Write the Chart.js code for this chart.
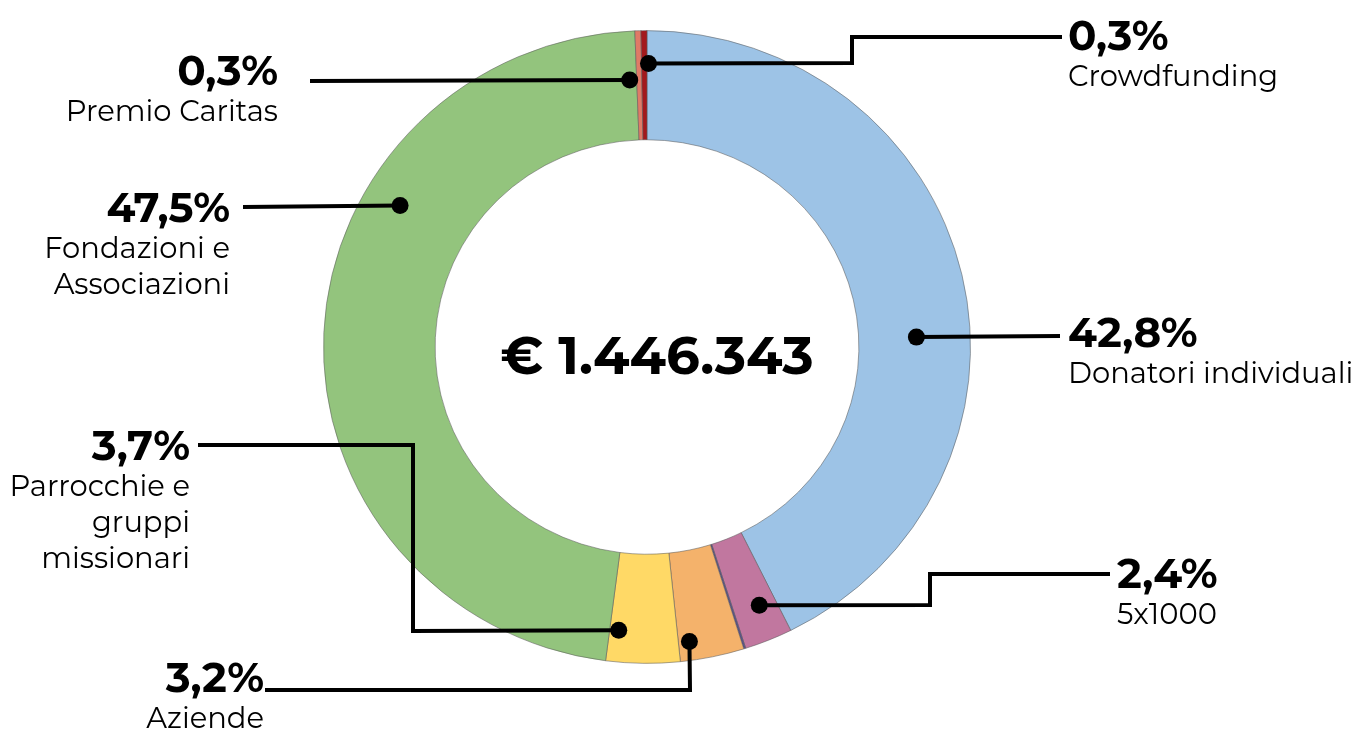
<!DOCTYPE html>
<html>
<head>
<meta charset="utf-8">
<script src="https://cdn.jsdelivr.net/npm/chart.js@4.4.1/dist/chart.umd.min.js"></script>
<style>
  html, body { margin: 0; padding: 0; background: #fff; }
  #wrap { width: 1357px; height: 729px; position: relative; }
</style>
</head>
<body>
<div id="wrap"><canvas id="chart" width="1357" height="729"></canvas></div>
<script>
const categories = ['Donatori individuali', '5x1000', '', 'Aziende', 'Parrocchie e gruppi missionari', 'Fondazioni e Associazioni', 'Premio Caritas', 'Crowdfunding'];
const values = [42.8, 2.4, 0.1, 3.2, 3.7, 47.5, 0.3, 0.3];
const pctLabels = ['42,8%', '2,4%', '', '3,2%', '3,7%', '47,5%', '0,3%', '0,3%'];
const colors = ['#9dc3e6', '#c1779f', '#5a4f8c', '#f4b26b', '#ffd966', '#93c47d', '#e07a66', '#a3191c'];
const totalText = '€ 1.446.343';

const FONT = '"Montserrat", "Inter", sans-serif';
const SQUASH = 0.978; // the ring in the original is slightly flattened

// leader lines: dot angle (deg from top) and distance from centre (px), elbow points, text
const leaders = [
  { i: 7, ang: 0.3, rad: 284, path: [[852, 63], [852, 37], [1062, 37]], tx: 1068, align: 'left', y0: 50, lines: ['Crowdfunding'] },
  { i: 6, ang: 356.3, rad: 268, path: [[310, 81]], tx: 278, align: 'right', y0: 85, lines: ['Premio Caritas'] },
  { i: 5, ang: 299.8, rad: 285, path: [[243, 207]], tx: 230, align: 'right', y0: 222, lines: ['Fondazioni e', 'Associazioni'] },
  { i: 0, ang: 87.9, rad: 270, path: [[1060, 336]], tx: 1068, align: 'left', y0: 347, lines: ['Donatori individuali'] },
  { i: 1, ang: 156.5, rad: 282, path: [[930, 605], [930, 574], [1110, 574]], tx: 1117, align: 'left', y0: 588, lines: ['5x1000'] },
  { i: 3, ang: 171.8, rad: 298, path: [[690, 690], [265, 690]], tx: 264, align: 'right', y0: 692, lines: ['Aziende'] },
  { i: 4, ang: 185.7, rad: 285, path: [[413, 631], [413, 445], [198, 445]], tx: 190, align: 'right', y0: 460, lines: ['Parrocchie e', 'gruppi', 'missionari'] }
];

const squashPlugin = {
  id: 'squash',
  beforeDatasetsDraw(chart) {
    const arc = chart.getDatasetMeta(0).data[0];
    const ctx = chart.ctx;
    ctx.save();
    ctx.translate(arc.x, arc.y);
    ctx.scale(1, SQUASH);
    ctx.translate(-arc.x, -arc.y);
  },
  afterDatasetsDraw(chart) {
    chart.ctx.restore();
  }
};

const leaderPlugin = {
  id: 'leaders',
  afterDraw(chart) {
    const ctx = chart.ctx;
    const arc = chart.getDatasetMeta(0).data[0];
    const cx = arc.x, cy = arc.y;
    const scale = arc.outerRadius / 324;
    ctx.save();
    leaders.forEach(l => {
      const a = l.ang * Math.PI / 180;
      const dx = cx + Math.sin(a) * l.rad * scale;
      const dy = cy - Math.cos(a) * l.rad * scale;
      ctx.strokeStyle = '#000';
      ctx.lineWidth = 4;
      ctx.lineJoin = 'miter';
      ctx.beginPath();
      ctx.moveTo(dx, dy);
      l.path.forEach(p => ctx.lineTo(p[0], p[1]));
      ctx.stroke();
      ctx.fillStyle = '#000';
      ctx.beginPath();
      ctx.arc(dx, dy, 8.5, 0, Math.PI * 2);
      ctx.fill();

      ctx.textAlign = l.align;
      ctx.textBaseline = 'alphabetic';
      ctx.font = 'bold 42px ' + FONT;
      ctx.fillText(pctLabels[l.i], l.tx, l.y0);
      ctx.font = '29px ' + FONT;
      l.lines.forEach((t, k) => ctx.fillText(t, l.tx, l.y0 + 36 + k * 36));
    });
    ctx.font = 'bold 53px ' + FONT;
    ctx.textAlign = 'center';
    ctx.fillText(totalText, cx + 10, cy + 27);
    ctx.restore();
  }
};

new Chart(document.getElementById('chart'), {
  type: 'doughnut',
  data: {
    labels: categories,
    datasets: [{
      data: values,
      backgroundColor: colors,
      borderColor: 'rgba(90,90,90,0.55)',
      borderWidth: 1
    }]
  },
  options: {
    responsive: false,
    animation: false,
    cutout: '65.5%',
    layout: { padding: { left: 323, right: 386, top: 23, bottom: 58 } },
    plugins: { legend: { display: false }, tooltip: { enabled: false } }
  },
  plugins: [squashPlugin, leaderPlugin]
});
</script>
</body>
</html>
